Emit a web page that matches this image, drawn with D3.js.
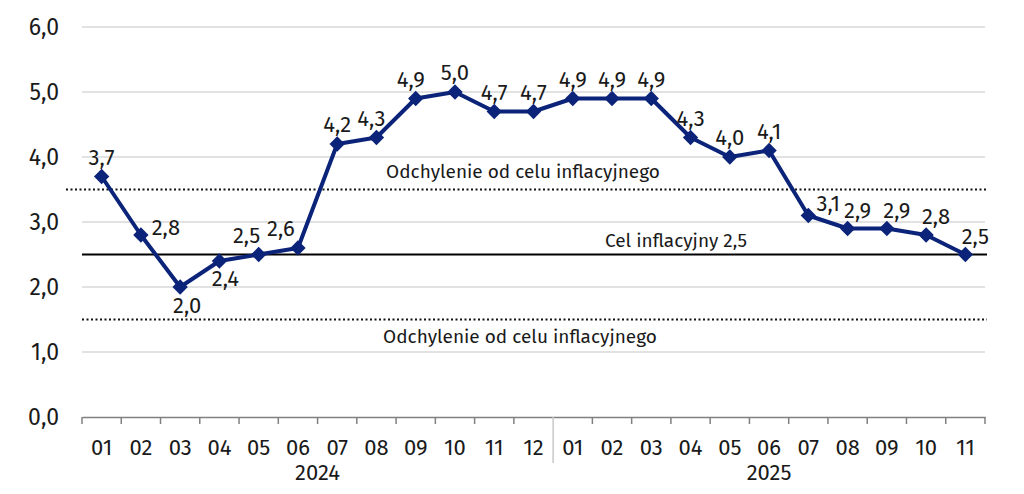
<!DOCTYPE html>
<html>
<head>
<meta charset="utf-8">
<script src="https://cdn.jsdelivr.net/npm/d3@7"></script>
<style>
  body { margin: 0; background: #fff; }
  text { font-family: "Fira Sans", Roboto, "Noto Sans", sans-serif; fill: #1a1a1a; }
</style>
</head>
<body>
<script>
// months and CPI values, 2024-01 .. 2025-11
var months = ["01","02","03","04","05","06","07","08","09","10","11","12",
              "01","02","03","04","05","06","07","08","09","10","11"];
var years = ["2024", "2025"];
var yearLength = [12, 11];
var cpi = [3.7, 2.8, 2.0, 2.4, 2.5, 2.6, 4.2, 4.3, 4.9, 5.0, 4.7, 4.7,
           4.9, 4.9, 4.9, 4.3, 4.0, 4.1, 3.1, 2.9, 2.9, 2.8, 2.5];
// where each value label sits relative to its point
var labelSide = ["top","right","bottom","bottomright","topleft","farleft","top","nudgeleft","nudgeleft","top","top","top",
                 "top","top","top","top","top","top","upright","topright","topright","topright","topright"];
var yTicks = [0, 1, 2, 3, 4, 5, 6];
var target = 2.5;
var bandUpper = 3.5, bandLower = 1.5;
var bandLabel = "Odchylenie od celu inflacyjnego";
var targetLabel = "Cel inflacyjny 2,5";

var width = 1024, height = 494;
var margin = {top: 27, right: 39, bottom: 77, left: 82};

var svg = d3.select("body").append("svg")
    .attr("width", width)
    .attr("height", height);

var x = d3.scaleBand()
    .domain(d3.range(months.length))
    .range([margin.left, width - margin.right]);
var y = d3.scaleLinear()
    .domain([0, 6])
    .range([height - margin.bottom, margin.top]);

var fmt = function(v){ return d3.format(".1f")(v).replace(".", ","); };

// gridlines
svg.append("g").selectAll("line")
    .data(yTicks.filter(function(d){ return d > 0; }))
    .enter().append("line")
    .attr("x1", margin.left).attr("x2", width - margin.right)
    .attr("y1", function(d){ return y(d); })
    .attr("y2", function(d){ return y(d); })
    .attr("stroke", "#d9d9d9").attr("stroke-width", 1.5);

// y tick labels
svg.append("g").selectAll("text")
    .data(yTicks)
    .enter().append("text")
    .attr("x", 59)
    .attr("y", function(d){ return y(d); })
    .attr("dy", "0.35em")
    .attr("text-anchor", "end")
    .style("font-size", "23px")
    .text(fmt);

// x axis
var xAxis = d3.axisBottom(x)
    .tickSize(0)
    .tickFormat(function(i){ return months[i]; });
var gx = svg.append("g")
    .attr("transform", "translate(0," + y(0) + ")")
    .call(xAxis);
gx.select(".domain").attr("stroke", "#808080").attr("stroke-width", 1.5);
gx.selectAll(".tick text")
    .attr("dy", "0")
    .attr("y", 38)
    .style("font-size", "22px")
    .style("font-family", "\"Fira Sans\", Roboto, \"Noto Sans\", sans-serif")
    .attr("fill", "#1a1a1a");

// tick marks at band edges
var edges = d3.range(months.length + 1);
svg.append("g").selectAll("line")
    .data(edges)
    .enter().append("line")
    .attr("x1", function(i){ return margin.left + i * x.step(); })
    .attr("x2", function(i){ return margin.left + i * x.step(); })
    .attr("y1", y(0))
    .attr("y2", function(i){ return i === yearLength[0] ? y(0) + 46 : y(0) + 7; })
    .attr("stroke", function(i){ return i === yearLength[0] ? "#c8c8c8" : "#808080"; })
    .attr("stroke-width", 1.5);

// year labels
var start = 0;
years.forEach(function(yr, k){
  var n = yearLength[k];
  var cx = (x(start) + x(start + n - 1) + x.bandwidth()) / 2;
  svg.append("text")
    .attr("x", cx).attr("y", y(0) + 63)
    .attr("text-anchor", "middle")
    .style("font-size", "22px")
    .text(yr);
  start += n;
});

// tolerance band and target lines
svg.append("line")
    .attr("x1", 66).attr("x2", width - margin.right + 2)
    .attr("y1", y(bandUpper)).attr("y2", y(bandUpper))
    .attr("stroke", "#111").attr("stroke-width", 2.2)
    .attr("stroke-dasharray", "2,2.5");
svg.append("line")
    .attr("x1", margin.left).attr("x2", width - margin.right + 2)
    .attr("y1", y(bandLower)).attr("y2", y(bandLower))
    .attr("stroke", "#111").attr("stroke-width", 2.2)
    .attr("stroke-dasharray", "2,2.5");
svg.append("line")
    .attr("x1", margin.left).attr("x2", width - margin.right + 2)
    .attr("y1", y(target)).attr("y2", y(target))
    .attr("stroke", "#000").attr("stroke-width", 2.2);

svg.append("text")
    .attr("x", 523).attr("y", y(bandUpper) - 12)
    .attr("text-anchor", "middle").style("font-size", "19px").attr("fill", "#222")
    .text(bandLabel);
svg.append("text")
    .attr("x", 520).attr("y", y(bandLower) + 23)
    .attr("text-anchor", "middle").style("font-size", "19px").attr("fill", "#222")
    .text(bandLabel);
svg.append("text")
    .attr("x", 676).attr("y", y(target) - 8)
    .attr("text-anchor", "middle").style("font-size", "19px").attr("fill", "#222")
    .text(targetLabel);

// series line
var cx = function(d, i){ return x(i) + x.bandwidth() / 2; };
var line = d3.line()
    .x(cx)
    .y(function(d){ return y(d); });
svg.append("path")
    .datum(cpi)
    .attr("d", line)
    .attr("fill", "none")
    .attr("stroke", "#0b2378")
    .attr("stroke-width", 4)
    .attr("stroke-linejoin", "round");

// diamond markers
var diamond = d3.symbol().type(d3.symbolDiamond2).size(150);
svg.append("g").selectAll("path")
    .data(cpi)
    .enter().append("path")
    .attr("d", diamond)
    .attr("transform", function(d, i){ return "translate(" + cx(d, i) + "," + y(d) + ")"; })
    .attr("fill", "#0b2378");

// value labels
var offsets = {
  top: [0, -12], nudgeleft: [-5, -12], right: [25, 0], bottom: [7, 26],
  bottomright: [6, 25], topleft: [-12, -12], farleft: [-17, -12],
  upright: [20, -5], topright: [10, -11]
};
svg.append("g").selectAll("text")
    .data(cpi)
    .enter().append("text")
    .attr("x", function(d, i){ return cx(d, i) + offsets[labelSide[i]][0]; })
    .attr("y", function(d, i){ return y(d) + offsets[labelSide[i]][1]; })
    .attr("text-anchor", "middle")
    .style("font-size", "22px")
    .text(fmt);
</script>
</body>
</html>
